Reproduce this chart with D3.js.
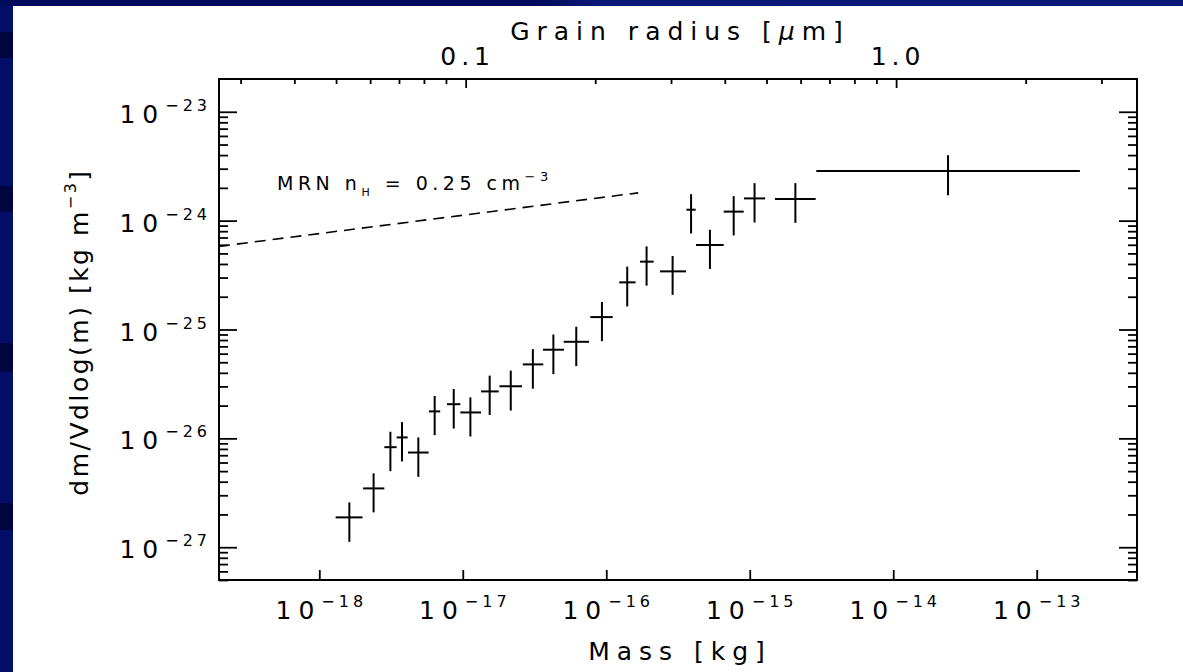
<!DOCTYPE html>
<html>
<head>
<meta charset="utf-8">
<script src="https://cdn.jsdelivr.net/npm/d3@7"></script>
<style>
  body { margin: 0; background: #020e68; }
  svg text { font-family: "DejaVu Sans", sans-serif; fill: #000; }
</style>
</head>
<body>
<svg id="chart" width="1183" height="672"></svg>
<script>
// binned grain mass distribution (mass in kg, dm/Vdlog(m) in kg m^-3)
var massBin = [1.62e-18, 2.39e-18, 3.13e-18, 3.77e-18, 4.90e-18, 6.37e-18, 8.65e-18, 1.13e-17,
    1.54e-17, 2.16e-17, 3.08e-17, 4.28e-17, 6.18e-17, 9.33e-17, 1.40e-16, 1.91e-16,
    2.90e-16, 3.90e-16, 5.28e-16, 7.73e-16, 1.08e-15, 2.08e-15, 2.41e-14]
var massLo = [1.30e-18, 2.02e-18, 2.84e-18, 3.46e-18, 4.15e-18, 5.81e-18, 7.76e-18, 9.62e-18,
    1.34e-17, 1.80e-17, 2.62e-17, 3.62e-17, 5.05e-17, 7.74e-17, 1.23e-16, 1.72e-16,
    2.37e-16, 3.62e-16, 4.22e-16, 6.58e-16, 9.11e-16, 1.50e-15, 2.91e-15]
var massHi = [2.00e-18, 2.84e-18, 3.46e-18, 4.13e-18, 5.78e-18, 6.96e-18, 9.62e-18, 1.34e-17,
    1.78e-17, 2.59e-17, 3.64e-17, 5.07e-17, 7.59e-17, 1.11e-16, 1.60e-16, 2.14e-16,
    3.60e-16, 4.20e-16, 6.58e-16, 9.08e-16, 1.28e-15, 2.88e-15, 2.00e-13]
var density = [1.88e-27, 3.47e-27, 8.30e-27, 1.02e-26, 7.41e-27, 1.77e-26, 2.06e-26, 1.73e-26,
    2.70e-26, 3.01e-26, 4.78e-26, 6.52e-26, 7.71e-26, 1.30e-25, 2.71e-25, 4.20e-25,
    3.42e-25, 1.26e-24, 5.97e-25, 1.21e-24, 1.60e-24, 1.58e-24, 2.86e-24]
var densityHi = [2.58e-27, 4.77e-27, 1.15e-26, 1.41e-26, 1.02e-26, 2.45e-26, 2.84e-26, 2.38e-26,
    3.77e-26, 4.19e-26, 6.60e-26, 9.00e-26, 1.06e-25, 1.79e-25, 3.78e-25, 5.80e-25,
    4.73e-25, 1.75e-24, 8.24e-25, 1.68e-24, 2.21e-24, 2.21e-24, 3.99e-24]
var densityLo = [1.12e-27, 2.09e-27, 5.00e-27, 6.14e-27, 4.43e-27, 1.07e-26, 1.23e-26, 1.04e-26,
    1.64e-26, 1.80e-26, 2.86e-26, 3.89e-26, 4.61e-26, 7.81e-26, 1.63e-25, 2.53e-25,
    2.08e-25, 7.62e-25, 3.60e-25, 7.31e-25, 9.62e-25, 9.55e-25, 1.71e-24]

// MRN reference line
var mrnMass = [2.0e-19, 1.67e-16]
var mrnDensity = [5.8e-25, 1.8e-24]

var massTicks = [1e-18, 1e-17, 1e-16, 1e-15, 1e-14, 1e-13]
var densityTicks = [1e-27, 1e-26, 1e-25, 1e-24, 1e-23]
var radiusMajor = [0.1, 1.0]
var radiusLabels = ["0.1", "1.0"]
var grainDensity = 2500 // kg m^-3, for radius <-> mass

function massToRadius(m) {
    return Math.cbrt(3 * m / (4 * Math.PI * grainDensity)) * 1e6
}

function DrawChart() {
    var svg = d3.select('#chart')
    var x0 = 219, x1 = 1137, y0 = 79, y1 = 580

    // slide background
    var grad = svg.append('defs').append('linearGradient').attr('id', 'topbar')
    grad.append('stop').attr('offset', '0%').attr('stop-color', '#010a58')
    grad.append('stop').attr('offset', '45%').attr('stop-color', '#010a58')
    grad.append('stop').attr('offset', '50%').attr('stop-color', '#0a1774')
    grad.append('stop').attr('offset', '100%').attr('stop-color', '#0b1876')
    svg.append('rect').attr('width', 1183).attr('height', 672).attr('fill', '#020e68')
    svg.append('rect').attr('width', 1183).attr('height', 6).attr('fill', 'url(#topbar)')
    var bullets = [[32, 26], [186, 26], [343, 29], [503, 27]]
    bullets.forEach(function (b) {
        svg.append('rect').attr('x', 0).attr('y', b[0]).attr('width', 13).attr('height', b[1]).attr('fill', '#000640')
    })
    svg.append('rect').attr('x', 13).attr('y', 6).attr('width', 1170).attr('height', 666).attr('fill', '#fff')

    var xScale = d3.scaleLog().domain([2e-19, 5e-13]).range([x0, x1])
    var yScale = d3.scaleLog().domain([5e-28, 2e-23]).range([y1, y0])
    var rScale = d3.scaleLog()
        .domain([massToRadius(2e-19), massToRadius(5e-13)])
        .range([x0, x1])

    function noDomain(g) {
        g.select('.domain').remove()
        g.selectAll('.tick line').attr('stroke', '#000').attr('stroke-width', 1.8)
        g.selectAll('.tick text').remove()
    }
    function isMinor(v) {
        return Math.abs(Math.log10(v) - Math.round(Math.log10(v))) > 1e-6
    }
    var yMinor = yScale.ticks().filter(isMinor)
    var rMinor = rScale.ticks().filter(isMinor)

    // bottom axis
    svg.append('g').attr('transform', 'translate(0,' + y1 + ')')
        .call(d3.axisBottom(xScale).tickValues(massTicks).tickSize(-10).tickSizeOuter(0))
        .call(noDomain)
    // top axis (grain radius)
    svg.append('g').attr('transform', 'translate(0,' + y0 + ')')
        .call(d3.axisTop(rScale).tickValues(radiusMajor).tickSize(-9).tickSizeOuter(0))
        .call(noDomain)
    svg.append('g').attr('transform', 'translate(0,' + y0 + ')')
        .call(d3.axisTop(rScale).tickValues(rMinor).tickSize(-5).tickSizeOuter(0))
        .call(noDomain)
    // left and right axes
    svg.append('g').attr('transform', 'translate(' + x0 + ',0)')
        .call(d3.axisLeft(yScale).tickValues(densityTicks).tickSize(-18).tickSizeOuter(0))
        .call(noDomain)
    svg.append('g').attr('transform', 'translate(' + x0 + ',0)')
        .call(d3.axisLeft(yScale).tickValues(yMinor).tickSize(-9).tickSizeOuter(0))
        .call(noDomain)
    svg.append('g').attr('transform', 'translate(' + x1 + ',0)')
        .call(d3.axisRight(yScale).tickValues(densityTicks).tickSize(-18).tickSizeOuter(0))
        .call(noDomain)
    svg.append('g').attr('transform', 'translate(' + x1 + ',0)')
        .call(d3.axisRight(yScale).tickValues(yMinor).tickSize(-9).tickSizeOuter(0))
        .call(noDomain)

    svg.append('rect')
        .attr('x', x0).attr('y', y0)
        .attr('width', x1 - x0).attr('height', y1 - y0)
        .attr('fill', 'none').attr('stroke', '#000').attr('stroke-width', 2)

    // power-of-ten labels
    function powerLabel(sel, v) {
        var e = Math.round(Math.log10(v))
        sel.append('tspan').attr('font-size', 25).attr('letter-spacing', 7).text('10')
        sel.append('tspan').attr('font-size', 16).attr('letter-spacing', 4).attr('dy', -12).text('\u2212' + Math.abs(e))
    }
    massTicks.forEach(function (v) {
        var t = svg.append('text').attr('x', xScale(v) + 2).attr('y', 619).attr('text-anchor', 'middle')
        powerLabel(t, v)
    })
    densityTicks.forEach(function (v) {
        var t = svg.append('text').attr('x', 211).attr('y', yScale(v) + 11).attr('text-anchor', 'end')
        powerLabel(t, v)
    })
    radiusMajor.forEach(function (v, i) {
        svg.append('text').attr('x', rScale(v) + 2).attr('y', 65).attr('text-anchor', 'middle')
            .attr('font-size', 25).attr('letter-spacing', 5).text(radiusLabels[i])
    })

    // axis titles
    svg.append('text').attr('x', 680).attr('y', 40).attr('text-anchor', 'middle')
        .attr('font-size', 25).attr('letter-spacing', 7)
        .call(function (t) {
            t.append('tspan').text('Grain radius [')
            t.append('tspan').attr('font-style', 'italic').text('\u03bc')
            t.append('tspan').text('m]')
        })
    svg.append('text').attr('x', 680).attr('y', 660).attr('text-anchor', 'middle')
        .attr('font-size', 25).attr('letter-spacing', 7).text('Mass [kg]')
    svg.append('text').attr('transform', 'translate(88,332) rotate(-90)').attr('text-anchor', 'middle')
        .attr('font-size', 25).attr('letter-spacing', 2.5)
        .call(function (t) {
            t.append('tspan').text('dm/Vdlog(m) [kg m')
            t.append('tspan').attr('font-size', 16).attr('dy', -12).text('\u22123')
            t.append('tspan').attr('dy', 12).text(']')
        })

    // MRN curve
    var mrnLine = d3.line()
        .x(function (d) { return xScale(d[0]) })
        .y(function (d) { return yScale(d[1]) })
    svg.append('path')
        .attr('d', mrnLine(mrnMass.map(function (m, i) { return [m, mrnDensity[i]] })))
        .attr('fill', 'none').attr('stroke', '#000').attr('stroke-width', 1.6)
        .attr('stroke-dasharray', '11,7')
    svg.append('text').attr('x', 277).attr('y', 190).attr('font-size', 19).attr('letter-spacing', 4.5)
        .call(function (t) {
            t.append('tspan').text('MRN n')
            t.append('tspan').attr('font-size', 11).attr('dy', 6).text('H')
            t.append('tspan').attr('dy', -6).text(' = 0.25 cm')
            t.append('tspan').attr('font-size', 13).attr('dy', -9).text('\u22123')
        })

    // error-bar crosses
    var pts = svg.append('g')
    massBin.forEach(function (m, i) {
        pts.append('line')
            .attr('x1', xScale(massLo[i])).attr('x2', xScale(massHi[i]))
            .attr('y1', yScale(density[i])).attr('y2', yScale(density[i]))
            .attr('stroke', '#000').attr('stroke-width', 2)
        pts.append('line')
            .attr('x1', xScale(m)).attr('x2', xScale(m))
            .attr('y1', yScale(densityLo[i])).attr('y2', yScale(densityHi[i]))
            .attr('stroke', '#000').attr('stroke-width', 2)
    })
}

DrawChart()
</script>
</body>
</html>
